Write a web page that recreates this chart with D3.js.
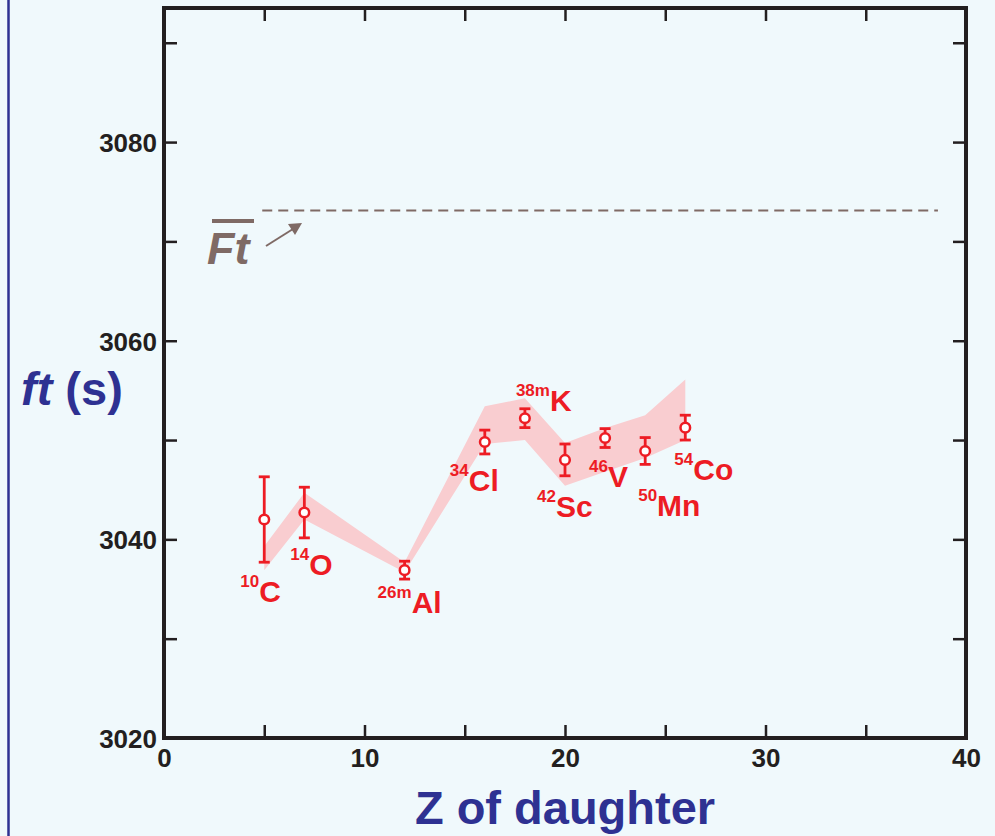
<!DOCTYPE html>
<html>
<head>
<meta charset="utf-8">
<script src="https://cdn.jsdelivr.net/npm/d3@7"></script>
<style>
  html, body { margin: 0; padding: 0; background: #f0f9fc; }
  svg { display: block; }
  text { font-family: "Liberation Sans", Arial, Helvetica, sans-serif; font-weight: bold; }
</style>
</head>
<body>
<script>
// ---- data ----
const daughterZ   = [5, 7, 12, 16, 18, 20, 22, 24, 26];
const ftValues    = [3042.0, 3042.7, 3036.9, 3049.8, 3052.2, 3048.0, 3050.2, 3048.9, 3051.25];
const ftErrors    = [4.3, 2.55, 0.9, 1.2, 0.95, 1.6, 0.95, 1.35, 1.25];
const massLabels  = ["10", "14", "26m", "34", "38m", "42", "46", "50", "54"];
const symbolLabels= ["C", "O", "Al", "Cl", "K", "Sc", "V", "Mn", "Co"];
const bandZ       = [5, 7, 12, 16, 18, 20, 22, 24, 26];
const bandUpper   = [3039.3, 3044.7, 3037.7, 3053.4, 3054.2, 3049.7, 3051.2, 3052.5, 3056.1];
const bandLower   = [3036.9, 3042.0, 3036.7, 3049.6, 3050.0, 3045.4, 3046.8, 3048.2, 3050.0];
const averageFt   = 3073.1;
const averageZRange = [4.9, 38.6];
const xTickLabels = [0, 10, 20, 30, 40];
const yTickLabels = [3020, 3040, 3060, 3080];

// ---- layout (pixel offsets for labels: start of superscript, baseline of symbol) ----
const labelOffsets = [[-24, 83], [-14, 62], [-27, 43], [-35, 49], [-9, -7], [-28, 57], [-16, 49], [-7, 65], [-11, 52]];

const W = 995, H = 836;
const mLeft = 164, mRight = 966, mTop = 8, mBottom = 738;
const red = "#ed1c24", pink = "#f9cdd0", axisCol = "#231f20", blue = "#2e3192", brown = "#7f6a65";

const svg = d3.select("body").append("svg").attr("width", W).attr("height", H);
svg.append("rect").attr("width", W).attr("height", H).attr("fill", "#f0f9fc");
svg.append("line").attr("x1", 8.5).attr("x2", 8.5).attr("y1", 0).attr("y2", H)
  .attr("stroke", blue).attr("stroke-width", 2.5);

const x = d3.scaleLinear().domain([0, 40]).range([mLeft, mRight]);
const y = d3.scaleLinear().domain([3020, 3093.5]).range([mBottom, mTop]);

// band
const band = bandZ.map((z, i) => ({z, u: bandUpper[i], l: bandLower[i]}));
svg.append("path").datum(band)
  .attr("d", d3.area().x(d => x(d.z)).y0(d => y(d.l)).y1(d => y(d.u)))
  .attr("fill", pink);

// average dashed line
svg.append("line")
  .attr("x1", x(averageZRange[0])).attr("x2", x(averageZRange[1]))
  .attr("y1", y(averageFt)).attr("y2", y(averageFt))
  .attr("stroke", brown).attr("stroke-width", 2).attr("stroke-dasharray", "10,6");

// axes
const fmtY = d => yTickLabels.includes(d) ? d : "";
const fmtX = d => xTickLabels.includes(d) ? d : "";
const gL = svg.append("g").attr("transform", `translate(${mLeft},0)`)
  .call(d3.axisLeft(y).tickValues(d3.range(3020, 3091, 10)).tickSize(-13).tickPadding(20).tickFormat(fmtY));
const gB = svg.append("g").attr("transform", `translate(0,${mBottom})`)
  .call(d3.axisBottom(x).tickValues(d3.range(0, 41, 5)).tickSize(-13).tickPadding(24).tickFormat(fmtX));
const gT = svg.append("g").attr("transform", `translate(0,${mTop})`)
  .call(d3.axisTop(x).tickValues(d3.range(5, 40, 5)).tickSize(-13).tickFormat(""));
const gR = svg.append("g").attr("transform", `translate(${mRight},0)`)
  .call(d3.axisRight(y).tickValues(d3.range(3030, 3091, 10)).tickSize(-13).tickFormat(""));
[gL, gB, gT, gR].forEach(g => {
  g.select(".domain").remove();
  g.selectAll(".tick line").attr("stroke", axisCol).attr("stroke-width", 2.5);
  g.selectAll(".tick text").attr("fill", axisCol).style("font-size", "26px")
    .style("font-family", '"Liberation Sans", Arial, sans-serif').style("font-weight", "bold");
});
gL.selectAll(".tick text").attr("x", -7).attr("dy", "0.36em");
gB.selectAll(".tick text").attr("y", 11).attr("dy", "0.71em");

svg.append("rect").attr("x", mLeft).attr("y", mTop).attr("width", mRight - mLeft).attr("height", mBottom - mTop)
  .attr("fill", "none").attr("stroke", axisCol).attr("stroke-width", 4);

// error bars & points
const pts = daughterZ.map((z, i) => ({z, v: ftValues[i], e: ftErrors[i], m: massLabels[i], s: symbolLabels[i], o: labelOffsets[i]}));
const gp = svg.append("g");
pts.forEach(d => {
  const cx = x(d.z);
  gp.append("line").attr("x1", cx).attr("x2", cx).attr("y1", y(d.v + d.e)).attr("y2", y(d.v - d.e))
    .attr("stroke", red).attr("stroke-width", 2.8);
  [d.v + d.e, d.v - d.e].forEach(v => gp.append("line")
    .attr("x1", cx - 5.5).attr("x2", cx + 5.5).attr("y1", y(v)).attr("y2", y(v))
    .attr("stroke", red).attr("stroke-width", 2.8));
  gp.append("circle").attr("cx", cx).attr("cy", y(d.v)).attr("r", 4.8)
    .attr("fill", "#ffffff").attr("stroke", red).attr("stroke-width", 2.5);
  const t = gp.append("text").attr("x", cx + d.o[0]).attr("y", y(d.v) + d.o[1]).attr("fill", red);
  t.append("tspan").text(d.m).style("font-size", "17px").attr("dy", -15);
  t.append("tspan").text(d.s).style("font-size", "30px").attr("dy", 15).attr("dx", 0);
});

// Ft label + arrow
svg.append("text").attr("x", 207).attr("y", 264).attr("fill", brown)
  .style("font-size", "45px").style("font-style", "italic").text("Ft");
svg.append("line").attr("x1", 212).attr("x2", 254).attr("y1", 221).attr("y2", 221)
  .attr("stroke", brown).attr("stroke-width", 4);
svg.append("line").attr("x1", 266).attr("y1", 246).attr("x2", 293).attr("y2", 229)
  .attr("stroke", brown).attr("stroke-width", 2);
svg.append("path").attr("d", "M302,223 L288,224 L295,235 Z").attr("fill", brown);

// axis titles
const yt = svg.append("text").attr("x", 21).attr("y", 405).attr("fill", blue).style("font-size", "47px");
yt.append("tspan").text("ft").style("font-style", "italic");
yt.append("tspan").text(" (s)");
svg.append("text").attr("x", 565).attr("y", 824).attr("text-anchor", "middle").attr("fill", blue)
  .style("font-size", "47px").text("Z of daughter");
</script>
</body>
</html>
